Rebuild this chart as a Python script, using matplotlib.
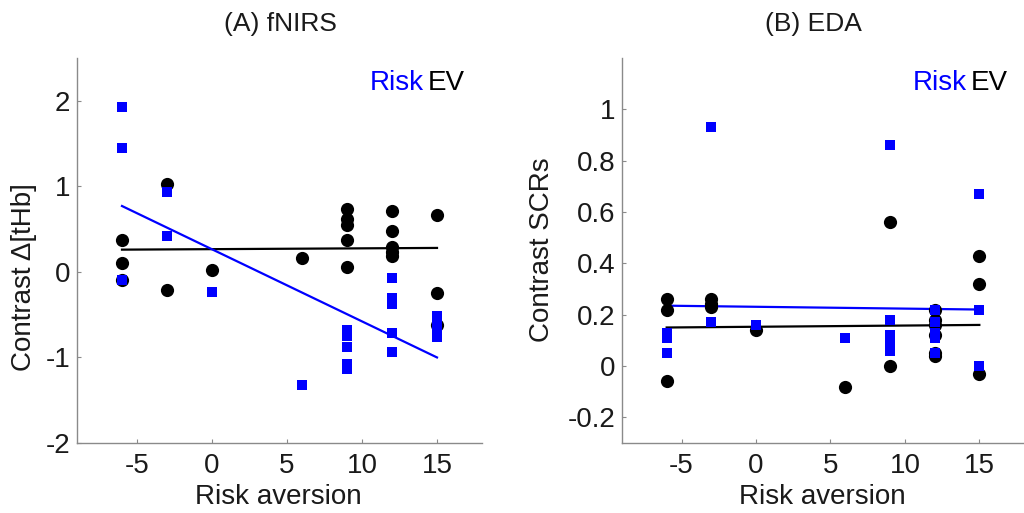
import matplotlib
matplotlib.use("Agg")
import matplotlib.pyplot as plt

plt.rcParams["font.family"] = ["Liberation Sans", "DejaVu Sans"]
plt.rcParams["axes.unicode_minus"] = False

# ---- data ----
# (A) fNIRS
risk_A_x = [-6, -6, -6, -3, -3, 0, 6, 9, 9, 9, 9, 9, 12, 12, 12, 12, 12, 15, 15, 15, 15, 15]
risk_A_y = [1.93, 1.45, -0.10, 0.93, 0.42, -0.23, -1.32, -0.68, -0.75, -0.88, -1.08, -1.13,
            -0.07, -0.31, -0.38, -0.72, -0.94, -0.51, -0.57, -0.62, -0.68, -0.76]
ev_A_x = [-6, -6, -6, -3, -3, 0, 6, 9, 9, 9, 9, 9, 12, 12, 12, 12, 12, 15, 15, 15]
ev_A_y = [0.37, 0.10, -0.09, 1.03, -0.21, 0.02, 0.16, 0.73, 0.62, 0.55, 0.37, 0.06,
          0.71, 0.48, 0.29, 0.23, 0.18, 0.67, -0.25, -0.62]
# (B) EDA
risk_B_x = [-6, -6, -6, -3, -3, 0, 6, 9, 9, 9, 9, 9, 9, 12, 12, 12, 12, 12, 15, 15, 15]
risk_B_y = [0.13, 0.11, 0.05, 0.93, 0.17, 0.16, 0.11, 0.86, 0.18, 0.12, 0.10, 0.08, 0.06,
            0.22, 0.17, 0.13, 0.11, 0.05, 0.67, 0.22, 0.00]
ev_B_x = [-6, -6, -6, -3, -3, -3, 0, 6, 9, 9, 12, 12, 12, 12, 12, 12, 15, 15, 15]
ev_B_y = [0.26, 0.22, -0.06, 0.26, 0.24, 0.23, 0.14, -0.08, 0.56, 0.00,
          0.22, 0.18, 0.16, 0.12, 0.05, 0.04, 0.43, 0.32, -0.03]
# regression lines (end points)
fit_x = [-6, 15]
fit_risk_A = [0.77, -1.00]
fit_ev_A = [0.26, 0.28]
fit_risk_B = [0.235, 0.22]
fit_ev_B = [0.15, 0.16]

xticks = [-5, 0, 5, 10, 15]
yticks_A = [-2, -1, 0, 1, 2]
yticks_B = [-0.2, 0, 0.2, 0.4, 0.6, 0.8, 1]
ytl_B = ["-0.2", "0", "0.2", "0.4", "0.6", "0.8", "1"]

BLUE = "#0000ff"
FS = 20

fig = plt.figure(figsize=(10.24, 5.13), dpi=100)
W, H = 1024, 513
axA = fig.add_axes([77 / W, 1 - 443 / H, 405 / W, 385 / H])
axB = fig.add_axes([622 / W, 1 - 443 / H, 402 / W, 385 / H])


def panel(ax, rx, ry, ex, ey, frisk, fev, ylim, yt, ytl):
    ax.plot(fit_x, fev, color="black", lw=1.6, zorder=2)
    ax.plot(fit_x, frisk, color=BLUE, lw=1.6, zorder=2)
    ax.plot(ex, ey, "o", color="black", ms=9.5, mew=0, zorder=3)
    ax.plot(rx, ry, "s", color=BLUE, ms=7.5, mew=0, zorder=4)
    ax.set_xlim(-9, 18)
    ax.set_ylim(*ylim)
    ax.set_xticks(xticks)
    ax.set_yticks(yt)
    ax.set_yticklabels(ytl)
    for s in ["top", "right"]:
        ax.spines[s].set_visible(False)
    for s in ["left", "bottom"]:
        ax.spines[s].set_color("#8a8a8a")
        ax.spines[s].set_linewidth(1.0)
    ax.tick_params(direction="in", length=3, color="#8a8a8a", labelsize=FS,
                   labelcolor="#1a1a1a")
    ax.tick_params(axis="x", pad=7)
    ax.tick_params(axis="y", pad=5)
    ax.text(0.857, 0.935, "Risk", color=BLUE, fontsize=FS, ha="right", va="center",
            transform=ax.transAxes)
    ax.text(0.867, 0.935, "EV", color="black", fontsize=FS, ha="left", va="center",
            transform=ax.transAxes)


panel(axA, risk_A_x, risk_A_y, ev_A_x, ev_A_y, fit_risk_A, fit_ev_A, (-2, 2.5),
      yticks_A, [str(v) for v in yticks_A])
panel(axB, risk_B_x, risk_B_y, ev_B_x, ev_B_y, fit_risk_B, fit_ev_B, (-0.3, 1.2),
      yticks_B, ytl_B)

# titles and axis labels
fig.text(280 / W, 1 - 24 / H, "(A) fNIRS", fontsize=FS - 1, ha="center", va="center",
         color="#1a1a1a")
fig.text(813 / W, 1 - 24 / H, "(B) EDA", fontsize=FS - 1, ha="center", va="center",
         color="#1a1a1a")
fig.text(278 / W, 1 - 497 / H, "Risk aversion", fontsize=FS, ha="center", va="center",
         color="#1a1a1a")
fig.text(822 / W, 1 - 497 / H, "Risk aversion", fontsize=FS, ha="center", va="center",
         color="#1a1a1a")
fig.text(24 / W, 1 - 277 / H, "Contrast \u0394[tHb]", fontsize=FS, ha="center",
         va="center", rotation=90, color="#1a1a1a")
fig.text(542 / W, 1 - 250 / H, "Contrast SCRs", fontsize=FS, ha="center",
         va="center", rotation=90, color="#1a1a1a")

fig.savefig("out.png", dpi=100)
